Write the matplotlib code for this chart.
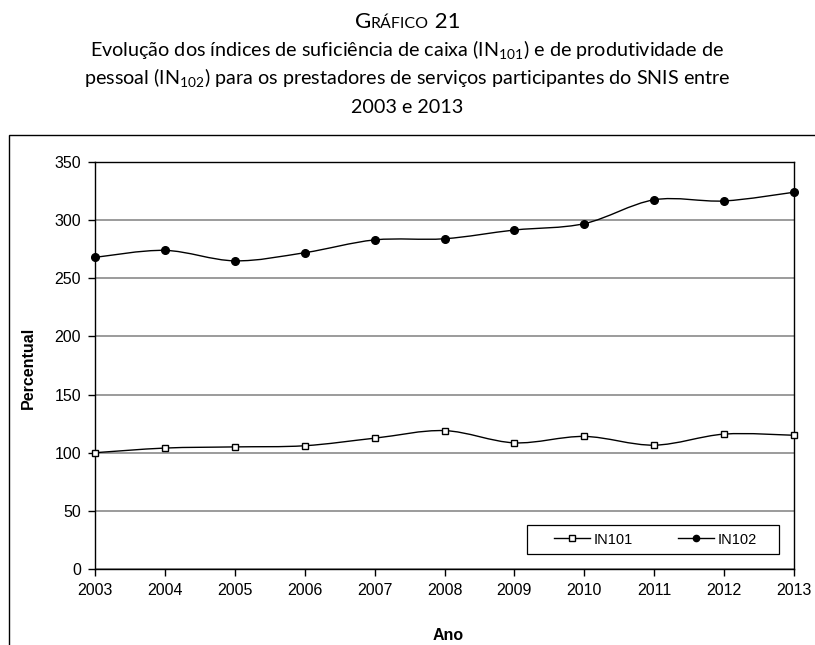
import matplotlib
matplotlib.use("Agg")
import matplotlib.pyplot as plt
from matplotlib.path import Path
from matplotlib.patches import PathPatch, Rectangle
from matplotlib.lines import Line2D

# valores
anos = [2003, 2004, 2005, 2006, 2007, 2008, 2009, 2010, 2011, 2012, 2013]
in101 = [100, 104, 105, 106, 112.5, 119, 108.5, 114, 106.5, 116, 115]
in102 = [268, 274, 265, 272, 283, 284, 291.5, 297, 317.5, 316.5, 324]
yticks = [0, 50, 100, 150, 200, 250, 300, 350]

titulo1 = "Evolução dos índices de suficiência de caixa (IN$_{101}$) e de produtividade de"
titulo2 = "pessoal (IN$_{102}$) para os prestadores de serviços participantes do SNIS entre"
titulo3 = "2003 e 2013"

plt.rcParams['font.family'] = ['Liberation Sans', 'DejaVu Sans']
plt.rcParams['mathtext.fontset'] = 'custom'
plt.rcParams['mathtext.rm'] = 'Lato'


def smooth_path(x, y):
    # curva suavizada tipo Excel (Catmull-Rom -> Bezier)
    n = len(x)
    verts = [(x[0], y[0])]
    codes = [Path.MOVETO]
    for i in range(n - 1):
        x0, y0 = (x[i - 1], y[i - 1]) if i > 0 else (x[i], y[i])
        x3, y3 = (x[i + 2], y[i + 2]) if i + 2 < n else (x[i + 1], y[i + 1])
        c1 = (x[i] + (x[i + 1] - x0) / 6.0, y[i] + (y[i + 1] - y0) / 6.0)
        c2 = (x[i + 1] - (x3 - x[i]) / 6.0, y[i + 1] - (y3 - y[i]) / 6.0)
        verts += [c1, c2, (x[i + 1], y[i + 1])]
        codes += [Path.CURVE4] * 3
    return Path(verts, codes)


fig = plt.figure(figsize=(8.15, 6.45), dpi=100)
ax = fig.add_axes([95 / 815, 1 - 569 / 645, 699 / 815, 407 / 645])

ax.add_patch(PathPatch(smooth_path(anos, in101), fill=False, ec='black', lw=1.0, zorder=3))
ax.add_patch(PathPatch(smooth_path(anos, in102), fill=False, ec='black', lw=1.0, zorder=3))
ax.plot(anos, in101, ls='none', marker='s', ms=5, mfc='white', mec='black', mew=1, zorder=4, clip_on=False)
ax.plot(anos, in102, ls='none', marker='o', ms=5.5, mfc='black', mec='black', zorder=4, clip_on=False)

ax.set_xlim(2003, 2013)
ax.set_ylim(0, 350)
ax.set_xticks(anos)
ax.set_yticks(yticks)
ax.tick_params(labelsize=11.5, length=5, width=1, direction='out', pad=5)
ax.yaxis.grid(True, color='#808080', lw=1.1)
ax.set_axisbelow(True)
for s in ax.spines.values():
    s.set_color('black')
    s.set_linewidth(1)

fig.text(28 / 815, 1 - 368 / 645, "Percentual", fontsize=11.5, fontweight='bold',
         rotation=90, ha='center', va='center')
fig.text(448 / 815, 1 - 636 / 645, "Ano", fontsize=11.5, fontweight='bold',
         ha='center', va='center')

# legenda: caixa desenhada a parte
ax.add_patch(Rectangle((432 / 699, 15 / 407), 252 / 699, 29 / 407, transform=ax.transAxes,
                       fill=True, fc='white', ec='black', lw=0.9, zorder=5))
h1 = Line2D([], [], color='black', lw=1.0, marker='s', ms=4.5, mfc='white', mec='black')
h2 = Line2D([], [], color='black', lw=1.0, marker='o', ms=4.5, mfc='black', mec='black')
leg = ax.legend([h1, h2], ["IN101", "IN102"], loc='center',
                bbox_to_anchor=((655.5 - 95) / 699, (569 - 539.5) / 407), ncol=2,
                frameon=False, fontsize=10.5, borderpad=0, borderaxespad=0,
                handlelength=2.45, handletextpad=0.25, columnspacing=3.1)
leg.set_zorder(6)

# moldura externa
fig.patches.append(Rectangle((9 / 815, -0.1), 1.2, 0.1 + 1 - 135 / 645, fill=False,
                             ec='black', lw=1, transform=fig.transFigure))

# titulo com versalete
fig.canvas.draw()
r = fig.canvas.get_renderer()
partes = [("G", 16), ("RÁFICO", 11.5), (" 21", 16)]
larg = []
for txt, sz in partes:
    t = fig.text(0, 0, txt, fontsize=sz, family='Lato')
    larg.append(t.get_window_extent(r).width)
    t.remove()
x = (815 - sum(larg)) / 2.0
for (txt, sz), w in zip(partes, larg):
    fig.text(x / 815, 1 - 28 / 645, txt, fontsize=sz, family='Lato', va='baseline')
    x += w

fig.text(0.5, 1 - 57 / 645, titulo1, fontsize=14.2, family='Lato', ha='center', va='baseline')
fig.text(0.5, 1 - 85 / 645, titulo2, fontsize=14.2, family='Lato', ha='center', va='baseline')
fig.text(0.5, 1 - 113 / 645, titulo3, fontsize=14.2, family='Lato', ha='center', va='baseline')

fig.savefig("out.png", dpi=100)
